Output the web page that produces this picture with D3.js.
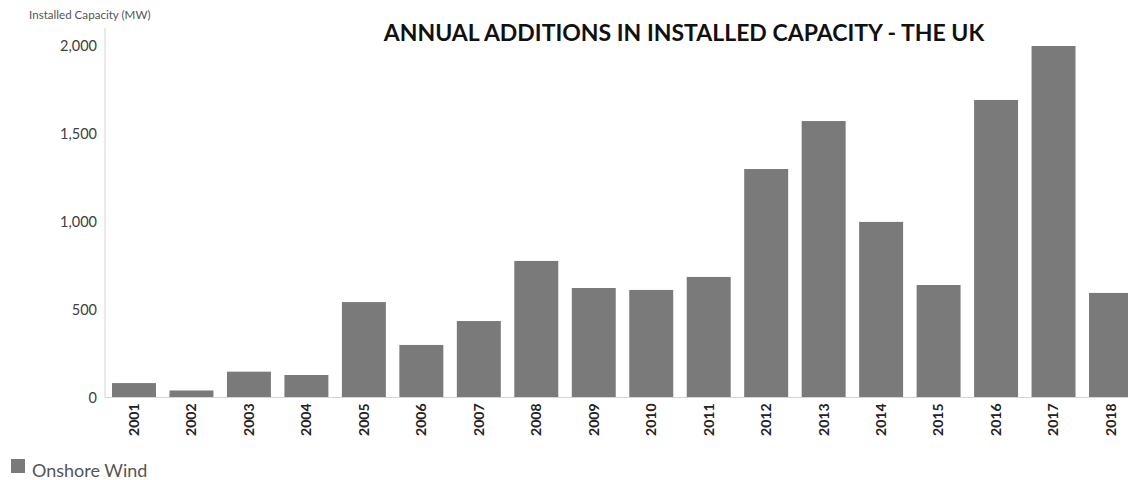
<!DOCTYPE html>
<html>
<head>
<meta charset="utf-8">
<script src="https://cdn.jsdelivr.net/npm/d3@7"></script>
<style>
  body { margin: 0; background: #fff; }
  svg { display: block; font-family: Lato, "Open Sans", sans-serif; }
  .title { font-weight: bold; font-size: 23px; fill: #111; }
  .axis-title { font-size: 11.6px; fill: #555; }
  .y-axis text { font-size: 14.5px; fill: #404040; }
  .x-axis text { font-size: 14px; font-weight: bold; fill: #222; }
  .legend-label { font-size: 18px; fill: #555; }
</style>
</head>
<body>
<div id="chart"></div>
<script>
const years = ['2001', '2002', '2003', '2004', '2005', '2006', '2007', '2008', '2009',
  '2010', '2011', '2012', '2013', '2014', '2015', '2016', '2017', '2018'];
const onshoreWind = [82, 40, 147, 128, 543, 299, 435, 777, 623,
  612, 686, 1300, 1573, 999, 640, 1693, 2000, 595];
const yTicks = [0, 500, 1000, 1500, 2000];
const seriesName = 'Onshore Wind';

const width = 1128, height = 480;
const left = 105, baseline = 397.5;

const svg = d3.select('#chart').append('svg')
  .attr('width', width)
  .attr('height', height);

const x = d3.scaleBand()
  .domain(years)
  .range([left, 1140])
  .paddingInner(0.235)
  .paddingOuter(0.122);

const y = d3.scaleLinear()
  .domain([0, 2000])
  .range([baseline, 46]);

const data = years.map((yr, i) => ({ year: yr, value: onshoreWind[i] }));

// bars
svg.append('g').attr('class', 'bars')
  .selectAll('rect').data(data).enter().append('rect')
    .attr('x', d => x(d.year))
    .attr('y', d => y(d.value))
    .attr('width', x.bandwidth())
    .attr('height', d => y(0) - y(d.value))
    .attr('fill', '#7a7a7a');

// axis lines
svg.append('line')
  .attr('x1', left).attr('x2', left)
  .attr('y1', 28).attr('y2', baseline)
  .attr('stroke', '#d4d4d4');

svg.append('line')
  .attr('x1', left).attr('x2', width)
  .attr('y1', baseline).attr('y2', baseline)
  .attr('stroke', '#d4d4d4');

// y axis
const yAxis = svg.append('g')
  .attr('class', 'y-axis')
  .attr('transform', `translate(${left},0)`)
  .call(d3.axisLeft(y).tickValues(yTicks).tickFormat(d3.format(',')).tickSize(0).tickPadding(8));
yAxis.select('.domain').remove();

// x axis
const xAxis = svg.append('g')
  .attr('class', 'x-axis')
  .attr('transform', `translate(0,${baseline})`)
  .call(d3.axisBottom(x).tickSize(0));
xAxis.select('.domain').remove();
xAxis.selectAll('text')
  .attr('transform', 'rotate(-90)')
  .attr('x', -6)
  .attr('y', 0)
  .attr('dy', '0.35em')
  .style('text-anchor', 'end');

svg.selectAll('.y-axis, .x-axis').attr('font-family', null).attr('font-size', null);

// titles
svg.append('text')
  .attr('class', 'title')
  .attr('x', 684)
  .attr('y', 41)
  .attr('text-anchor', 'middle')
  .text('ANNUAL ADDITIONS IN INSTALLED CAPACITY - THE UK');

svg.append('text')
  .attr('class', 'axis-title')
  .attr('x', 29)
  .attr('y', 19)
  .text('Installed Capacity (MW)');

// legend
svg.append('rect')
  .attr('x', 11).attr('y', 459)
  .attr('width', 14).attr('height', 14)
  .attr('fill', '#7a7a7a');

svg.append('text')
  .attr('class', 'legend-label')
  .attr('x', 32)
  .attr('y', 477)
  .text(seriesName);
</script>
</body>
</html>
